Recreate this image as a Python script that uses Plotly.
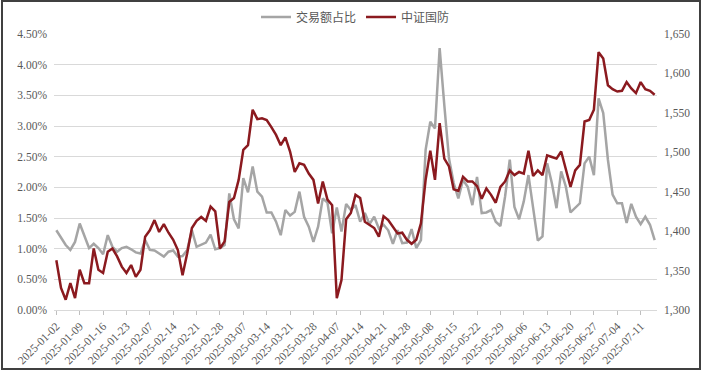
import pandas as pd
import plotly.graph_objects as go

# ---- data ----
holidays = ["2025-01-28", "2025-01-29", "2025-01-30", "2025-01-31", "2025-02-03",
            "2025-02-04", "2025-04-04", "2025-05-01", "2025-05-02", "2025-05-05",
            "2025-06-02"]
dates = [d.strftime("%Y-%m-%d") for d in pd.bdate_range("2025-01-02", "2025-07-16")
         if d.strftime("%Y-%m-%d") not in holidays]

share_pct = [
    1.30, 1.17, 1.06, 0.98, 1.11, 1.41, 1.20, 1.01, 1.08, 1.01,
    0.91, 1.22, 1.03, 0.95, 1.01, 1.03, 0.99, 0.94, 0.92, 1.14,
    0.98, 0.97, 0.92, 0.87, 0.95, 0.97, 0.87, 0.88, 0.98, 1.30,
    1.03, 1.06, 1.10, 1.23, 0.99, 1.01, 1.06, 1.90, 1.48, 1.33,
    2.15, 1.92, 2.34, 1.93, 1.85, 1.59, 1.59, 1.44, 1.22, 1.63,
    1.54, 1.60, 1.93, 1.52, 1.36, 1.11, 1.36, 1.82, 1.75, 1.25,
    1.67, 1.28, 1.73, 1.63, 1.71, 1.44, 1.58, 1.40, 1.52, 1.33,
    1.39, 1.30, 1.08, 1.30, 1.09, 1.10, 1.32, 1.01, 1.14, 2.61,
    3.07, 2.96, 4.27, 3.34, 2.47, 2.07, 1.82, 2.12, 2.01, 1.71,
    2.17, 1.58, 1.59, 1.63, 1.44, 1.37, 1.85, 2.45, 1.68, 1.48,
    1.77, 2.20, 1.66, 1.13, 1.20, 2.39, 2.07, 1.66, 2.26, 2.01,
    1.59, 1.66, 1.74, 2.39, 2.50, 2.20, 3.45, 3.21, 2.45, 1.88,
    1.74, 1.74, 1.42, 1.73, 1.52, 1.40, 1.52, 1.39, 1.14,
]

defense_index = [
    1363, 1328, 1313, 1334, 1315, 1351, 1334, 1334, 1378, 1351,
    1347, 1374, 1378, 1368, 1355, 1347, 1357, 1342, 1351, 1393,
    1401, 1414, 1399, 1409, 1398, 1389, 1376, 1344, 1372, 1404,
    1413, 1418, 1413, 1431, 1425, 1378, 1387, 1437, 1442, 1465,
    1503, 1509, 1554, 1542, 1543, 1541, 1532, 1522, 1509, 1519,
    1501, 1475, 1486, 1484, 1473, 1465, 1435, 1463, 1440, 1433,
    1315, 1338, 1415, 1423, 1446, 1442, 1412, 1408, 1404, 1393,
    1419, 1414, 1406, 1397, 1398, 1389, 1384, 1389, 1410, 1465,
    1502, 1465, 1537, 1492, 1482, 1453, 1451, 1469, 1463, 1463,
    1457, 1441, 1454, 1446, 1436, 1456, 1463, 1477, 1471, 1475,
    1473, 1502, 1470, 1477, 1471, 1496, 1494, 1492, 1501, 1480,
    1456, 1477, 1484, 1539, 1541, 1554, 1627, 1619, 1585, 1580,
    1577, 1578, 1589, 1581, 1575, 1589, 1580, 1578, 1573,
]

tick_labels = dates[0::5]

# ---- figure ----
W, H = 705, 373
ML, MR, MT, MB = 54, 48, 34, 63
PW, PH = W - ML - MR, H - MT - MB

label_font = dict(family="Liberation Serif", size=11.5, color="#595959")

fig = go.Figure()
fig.add_trace(go.Scatter(x=dates, y=share_pct, name="交易额占比", mode="lines",
                         line=dict(color="#A5A5A5", width=2.5)))
fig.add_trace(go.Scatter(x=dates, y=defense_index, name="中证国防", mode="lines",
                         yaxis="y2", line=dict(color="#8B1A1F", width=2.5)))

fig.update_layout(
    width=W, height=H,
    margin=dict(l=ML, r=MR, t=MT, b=MB, autoexpand=False),
    paper_bgcolor="white", plot_bgcolor="white",
    showlegend=True,
    legend=dict(orientation="h", x=0.5, xanchor="center", y=1 + (MT - 17) / PH,
                yanchor="middle",
                font=dict(family="Noto Sans CJK SC", size=12, color="#595959"),
                bgcolor="rgba(0,0,0,0)", itemwidth=30),
    xaxis=dict(type="category", range=[-0.5, len(dates) - 0.5],
               tickmode="array", tickvals=tick_labels, ticktext=tick_labels,
               tickangle=-45, tickfont=label_font,
               showgrid=False, showline=True, linecolor="#D9D9D9", linewidth=1,
               ticks="outside", ticklen=4, tickcolor="#BFBFBF", zeroline=False),
    yaxis=dict(range=[0, 4.5], dtick=0.5, tick0=0, tickformat=".2f", ticksuffix="%",
               tickfont=label_font, showgrid=True, gridcolor="#D9D9D9", gridwidth=1,
               zeroline=False, showline=False, ticklabelstandoff=6),
    yaxis2=dict(range=[1300, 1650], dtick=50, tick0=1300, tickformat=",d",
                overlaying="y", side="right", tickfont=label_font,
                showgrid=False, zeroline=False, showline=False, ticklabelstandoff=6),
    shapes=[dict(type="rect", xref="paper", yref="paper",
                 x0=(2 - ML) / PW, x1=(700 - ML) / PW,
                 y0=(MT + PH - 369) / PH, y1=(MT + PH - 1) / PH,
                 line=dict(color="#404040", width=2), fillcolor="rgba(0,0,0,0)",
                 layer="below")],
)

fig.write_html("out.html",
               config={"displayModeBar": False},
               post_script="document.body.style.margin='0';document.body.style.padding='0';")
